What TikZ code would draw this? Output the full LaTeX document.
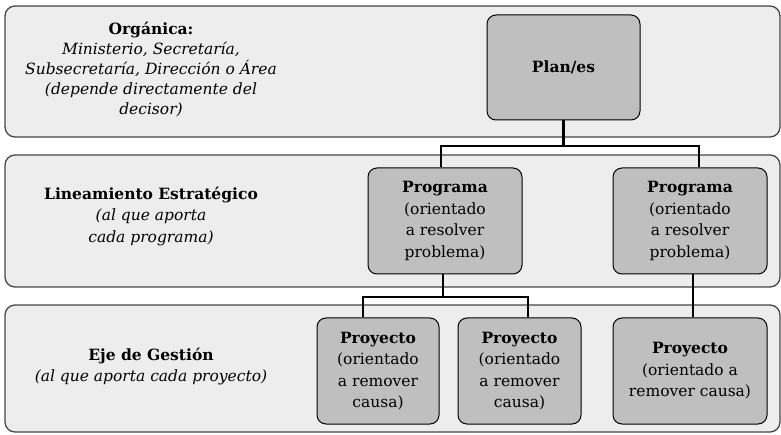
\documentclass[tikz,border=0pt]{standalone}
\usepackage{fontspec}
\setmainfont{DejaVu Serif}
\usepackage{tikz}
\pgfdeclarelayer{background}
\pgfdeclarelayer{foreground}
\pgfsetlayers{background,main,foreground}
\tikzset{
band/.style={draw=black!72, line width=1.3pt, fill=black!7, rounded corners=10pt},
unit/.style={draw=black, line width=1pt, fill=black!25, rounded corners=9pt, align=center, inner sep=2pt},
link/.style={draw=black, line width=2.3pt},
tag/.style={align=center}
}

\begin{document}
\begin{tikzpicture}[x=1pt,y=-1pt,font=\fontsize{15.5}{21.5}\selectfont]
\useasboundingbox (0,0) rectangle (781,435);
\begin{pgfonlayer}{background}
\draw[band] (5,6) rectangle (780,137);
\draw[band] (5,155) rectangle (780,287);
\draw[band] (5,305) rectangle (780,432);
\end{pgfonlayer}
\begin{pgfonlayer}{foreground}
\node[tag, font=\fontsize{15.5}{20}\selectfont] (organica) at (151,70) {\textbf{Orgánica:}\\ \textit{Ministerio, Secretaría,}\\ \textit{Subsecretaría, Dirección o Área}\\ \textit{(depende directamente del}\\ \textit{decisor)}};
\node[tag] (lineamiento) at (151,216.5) {\textbf{Lineamiento Estratégico}\\ \textit{(al que aporta}\\ \textit{cada programa)}};
\node[tag] (eje) at (151,366.5) {\textbf{Eje de Gestión}\\ \textit{(al que aporta cada proyecto)}};
\node[unit, minimum width=153, minimum height=105] (plan) at (563.5,67.5) {\textbf{Plan/es}};
\node[unit, minimum width=154, minimum height=106] (prog1) at (445,221) {\textbf{Programa}\\(orientado\\a resolver\\problema)};
\node[unit, minimum width=154, minimum height=106] (prog2) at (690,221) {\textbf{Programa}\\(orientado\\a resolver\\problema)};
\node[unit, minimum width=122, minimum height=106] (proj1) at (378,371) {\textbf{Proyecto}\\(orientado\\a remover\\causa)};
\node[unit, minimum width=123, minimum height=106] (proj2) at (519.5,371) {\textbf{Proyecto}\\(orientado\\a remover\\causa)};
\node[unit, minimum width=154, minimum height=106] (proj3) at (690,371) {\textbf{Proyecto}\\(orientado a\\remover causa)};
\end{pgfonlayer}
% plan to programas
\coordinate (split1) at (565,146);
\draw[link] (plan.south) -- (plan.south |- split1);
\draw[link] ([xshift=-4]prog1.north) |- (split1) -| ([xshift=9]prog2.north);
% programas to proyectos
\coordinate (split2) at (443,297);
\draw[link] ([xshift=-2]prog1.south) -- (split2);
\draw[link] ([xshift=-15]proj1.north) |- (split2) -| ([xshift=8.5]proj2.north);
\draw[link] ([xshift=3]prog2.south) -- ([xshift=3]proj3.north);
\end{tikzpicture}
\end{document}
